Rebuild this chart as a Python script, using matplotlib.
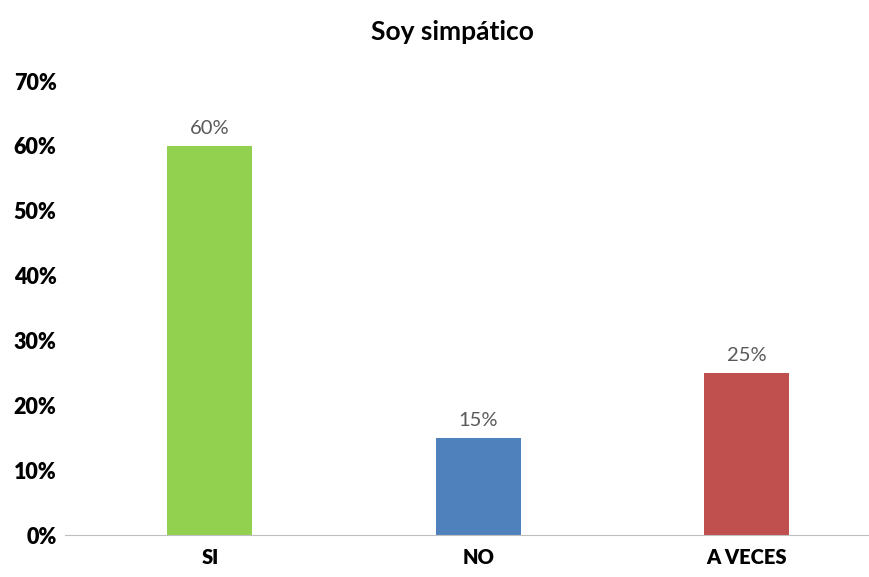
import matplotlib
matplotlib.use("Agg")
import matplotlib.pyplot as plt
from matplotlib.ticker import FuncFormatter

categories = ["SI", "NO", "A VECES"]
values = [0.60, 0.15, 0.25]
colors = ["#92D050", "#4F81BD", "#C0504D"]
yticks = [0, 0.1, 0.2, 0.3, 0.4, 0.5, 0.6, 0.7]

plt.rcParams['font.family'] = ['Lato', 'DejaVu Sans']

fig = plt.figure(figsize=(8.7, 5.77), dpi=100)
ax = fig.add_axes([65/870, 1-535/577, 805/870, (535-81)/577])

x = list(range(len(categories)))
bars = ax.bar(x, values, width=0.317, color=colors)
for xi, v in zip(x, values):
    ax.text(xi, v + 0.013, f"{round(v*100)}%", ha="center", va="bottom",
            fontsize=14.5, color="#595959")

ax.set_xlim(-0.54, 2.46)
ax.set_ylim(0, 0.70)
ax.set_yticks(yticks)
ax.yaxis.set_major_formatter(FuncFormatter(lambda v, p: f"{round(v*100)}%"))
ax.set_xticks(x)
ax.set_xticklabels(categories)
for lbl in ax.get_xticklabels():
    lbl.set_fontweight("heavy")
    lbl.set_fontsize(14.5)
for lbl in ax.get_yticklabels():
    lbl.set_fontweight("heavy")
    lbl.set_fontsize(15.5)
ax.tick_params(axis="both", length=0, colors="#000000")
ax.tick_params(axis="x", pad=9)
ax.tick_params(axis="y", pad=6)
for s in ["top", "right", "left"]:
    ax.spines[s].set_visible(False)
ax.spines["bottom"].set_color("#BFBFBF")

fig.text(452/870, 1-32/577, "Soy simpático", ha="center", va="center",
         fontsize=19, fontweight="bold")

fig.savefig("out.png", dpi=100)
